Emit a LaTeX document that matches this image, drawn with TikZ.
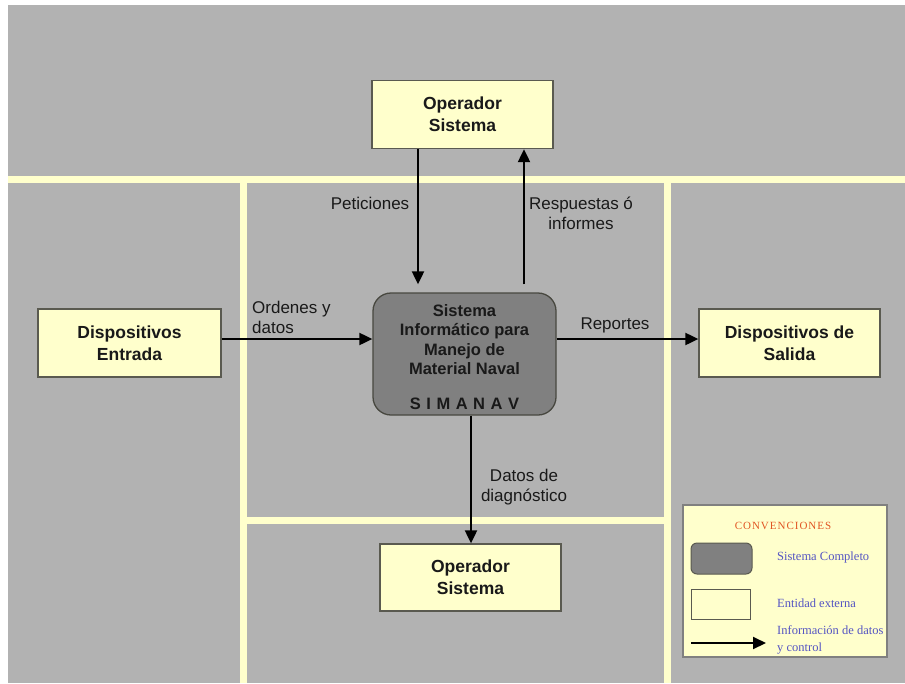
\documentclass[tikz,border=0pt]{standalone}
\usepackage{fontspec}
\setmainfont{Liberation Sans}
\newfontfamily\legendfont{Liberation Serif}
\newfontfamily\legendcaps[LetterSpace=9]{Liberation Serif}
\usetikzlibrary{arrows.meta}

\definecolor{panel}{RGB}{178,178,178}
\definecolor{cream}{RGB}{255,255,204}
\definecolor{coregray}{RGB}{128,128,128}
\definecolor{edgegray}{RGB}{90,90,80}
\definecolor{legendblue}{RGB}{85,85,195}
\definecolor{legendred}{RGB}{225,85,35}
\definecolor{inkdark}{RGB}{25,25,25}

\begin{document}
\begin{tikzpicture}[x=1pt,y=-1pt,
  entity/.style={draw=edgegray, line width=1.3pt, fill=cream,
    minimum width=181pt, minimum height=68pt, align=center, text=inkdark,
    font=\fontsize{17.5}{22}\selectfont\bfseries},
  corebox/.style={draw=edgegray!80!black, line width=1.3pt, fill=coregray,
    rounded corners=18pt, minimum width=183pt, minimum height=122pt},
  coretext/.style={align=center, text=inkdark,
    font=\fontsize{16.5}{19.5}\selectfont\bfseries},
  flowlabel/.style={align=center, text=inkdark, inner sep=0pt,
    font=\fontsize{17}{20}\selectfont},
  flow/.style={draw=black, line width=2pt,
    -{Triangle[length=13pt,width=12pt]}},
  divider/.style={draw=cream, line width=7pt},
  legendtext/.style={anchor=west, text=legendblue, inner sep=0pt,
    font=\legendfont\fontsize{12.5}{17}\selectfont, align=left}
]
\useasboundingbox (0,0) rectangle (905,683);

% page background
\fill[white] (0,0) rectangle (905,683);
\fill[panel] (8,5) rectangle (905,683);

% dividing strips between the regions
\draw[divider] (8,179) -- (905,179);
\draw[divider] (243,179) -- (243,683);
\draw[divider] (667,179) -- (667,683);
\draw[divider] (243,520) -- (667,520);

% external entities
\node[entity] (opTop) at (462.5,114.5) {Operador\\Sistema};
\node[entity, minimum width=183pt] (devIn) at (129.5,343) {Dispositivos\\Entrada};
\node[entity] (devOut) at (789.5,343) {Dispositivos de\\Salida};
\node[entity, minimum height=67pt] (opBottom) at (470.5,577.5) {Operador\\Sistema};

% the complete system
\node[corebox] (core) at (464.5,354) {};
\node[coretext] (coreName) at (464.5,339.5) {Sistema\\Informático para\\Manejo de\\Material Naval};
\node[coretext] (coreTag) at (464.5,404) {S\hspace{5.5pt}I\hspace{5.5pt}M\hspace{5.5pt}A\hspace{5.5pt}N\hspace{5.5pt}A\hspace{5.5pt}V};

% guide coordinates for the connectors
\coordinate (xPet) at (418,0);
\coordinate (xResp) at (524,0);
\coordinate (xDiag) at (471,0);
\coordinate (yRow) at (0,339);

% data flows
\draw[flow, shorten >=8pt] (opTop.south -| xPet) -- (core.north -| xPet);
\draw[flow, shorten <=8pt] (core.north -| xResp) -- (opTop.south -| xResp);
\draw[flow] (devIn.east |- yRow) -- (core.west |- yRow);
\draw[flow] (core.east |- yRow) -- (devOut.west |- yRow);
\draw[flow] (core.south -| xDiag) -- (opBottom.north -| xDiag);

% flow labels
\node[flowlabel] (lPet) at (370,203) {Peticiones};
\node[flowlabel] (lResp) at (581,213) {Respuestas ó\\informes};
\node[flowlabel, anchor=north west, align=left] (lOrd) at (252,301) {Ordenes y\\datos};
\node[flowlabel] (lRep) at (615,325) {Reportes};
\node[flowlabel] (lDiag) at (524,487) {Datos de\\diagnóstico};

% legend
\node[draw=coregray, line width=1.5pt, fill=cream, minimum width=204pt,
  minimum height=152pt, inner sep=0pt] (legend) at (785,581) {};
\node[text=legendred, font=\legendcaps\fontsize{11}{12}\selectfont] (legendTitle) at (783,526) {CONVENCIONES};
\node[draw=edgegray, line width=1pt, fill=coregray, rounded corners=6pt,
  minimum width=61pt, minimum height=31pt, inner sep=0pt] (keyCore) at (721.5,558.5) {};
\node[draw=edgegray, line width=1pt, fill=cream,
  minimum width=59pt, minimum height=30pt, inner sep=0pt] (keyEntity) at (720.5,604) {};
\coordinate (keyFrom) at (691,643);
\coordinate (keyTo) at (766,643);
\draw[flow] (keyFrom) -- (keyTo);
\node[legendtext] (keyCoreText) at (777,557) {Sistema Completo};
\node[legendtext] (keyEntityText) at (777,603) {Entidad externa};
\node[legendtext, anchor=north west] (keyFlowText) at (777,625) {Información de datos\\y control};
\end{tikzpicture}
\end{document}
